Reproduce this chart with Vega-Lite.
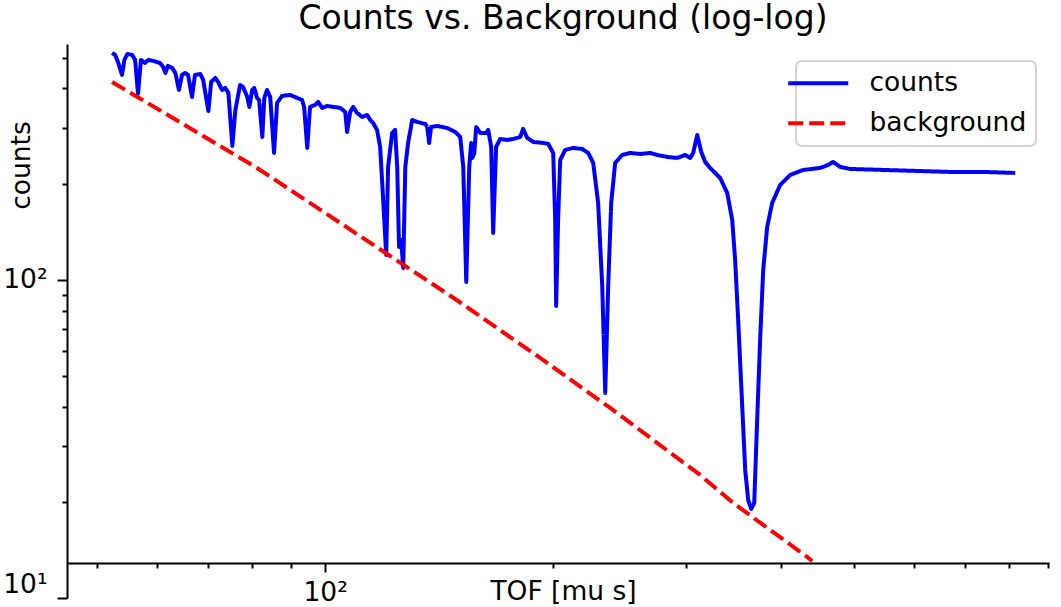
{
  "$schema": "https://vega.github.io/schema/vega-lite/v6.json",
  "width": 982,
  "height": 554,
  "autosize": {"type": "none"},
  "padding": {"left": 67, "top": 44, "right": 12, "bottom": 9},
  "background": "white",
  "title": {
    "text": "Counts vs. Background (log-log)",
    "font": "DejaVu Sans",
    "fontSize": 33,
    "fontWeight": "normal",
    "color": "black",
    "anchor": "middle",
    "baseline": "alphabetic",
    "offset": -18,
    "dx": 5
  },
  "layer": [
    {
      "data": {
        "values": [
          {"tof": 52.3, "value": 517.5, "series": "counts"},
          {"tof": 52.8, "value": 510.0, "series": "counts"},
          {"tof": 53.3, "value": 481.3, "series": "counts"},
          {"tof": 53.9, "value": 441.2, "series": "counts"},
          {"tof": 54.3, "value": 491.9, "series": "counts"},
          {"tof": 54.8, "value": 513.7, "series": "counts"},
          {"tof": 55.6, "value": 510.0, "series": "counts"},
          {"tof": 56.1, "value": 491.9, "series": "counts"},
          {"tof": 56.6, "value": 384.5, "series": "counts"},
          {"tof": 57.1, "value": 491.9, "series": "counts"},
          {"tof": 57.8, "value": 481.3, "series": "counts"},
          {"tof": 58.4, "value": 491.9, "series": "counts"},
          {"tof": 59.3, "value": 488.3, "series": "counts"},
          {"tof": 60.5, "value": 481.3, "series": "counts"},
          {"tof": 61.1, "value": 467.5, "series": "counts"},
          {"tof": 61.5, "value": 447.7, "series": "counts"},
          {"tof": 62.0, "value": 471.0, "series": "counts"},
          {"tof": 62.8, "value": 464.2, "series": "counts"},
          {"tof": 63.4, "value": 447.7, "series": "counts"},
          {"tof": 64.1, "value": 395.8, "series": "counts"},
          {"tof": 64.7, "value": 441.2, "series": "counts"},
          {"tof": 65.3, "value": 447.7, "series": "counts"},
          {"tof": 65.9, "value": 441.2, "series": "counts"},
          {"tof": 66.7, "value": 376.3, "series": "counts"},
          {"tof": 67.3, "value": 441.2, "series": "counts"},
          {"tof": 68.4, "value": 444.4, "series": "counts"},
          {"tof": 69.0, "value": 425.5, "series": "counts"},
          {"tof": 70.1, "value": 340.0, "series": "counts"},
          {"tof": 70.7, "value": 419.4, "series": "counts"},
          {"tof": 71.6, "value": 431.8, "series": "counts"},
          {"tof": 72.2, "value": 419.4, "series": "counts"},
          {"tof": 73.1, "value": 395.8, "series": "counts"},
          {"tof": 73.8, "value": 401.6, "series": "counts"},
          {"tof": 74.5, "value": 387.3, "series": "counts"},
          {"tof": 75.4, "value": 263.9, "series": "counts"},
          {"tof": 76.1, "value": 342.5, "series": "counts"},
          {"tof": 77.2, "value": 410.4, "series": "counts"},
          {"tof": 77.9, "value": 404.5, "series": "counts"},
          {"tof": 78.9, "value": 376.3, "series": "counts"},
          {"tof": 79.4, "value": 350.0, "series": "counts"},
          {"tof": 80.1, "value": 395.8, "series": "counts"},
          {"tof": 80.6, "value": 401.6, "series": "counts"},
          {"tof": 81.3, "value": 373.6, "series": "counts"},
          {"tof": 81.8, "value": 368.2, "series": "counts"},
          {"tof": 82.6, "value": 281.6, "series": "counts"},
          {"tof": 83.1, "value": 373.6, "series": "counts"},
          {"tof": 83.8, "value": 395.8, "series": "counts"},
          {"tof": 84.6, "value": 376.3, "series": "counts"},
          {"tof": 85.6, "value": 250.8, "series": "counts"},
          {"tof": 86.4, "value": 360.3, "series": "counts"},
          {"tof": 87.7, "value": 379.0, "series": "counts"},
          {"tof": 89.9, "value": 381.8, "series": "counts"},
          {"tof": 91.8, "value": 373.6, "series": "counts"},
          {"tof": 93.2, "value": 368.2, "series": "counts"},
          {"tof": 93.8, "value": 350.0, "series": "counts"},
          {"tof": 94.7, "value": 260.1, "series": "counts"},
          {"tof": 95.5, "value": 350.0, "series": "counts"},
          {"tof": 97.0, "value": 355.1, "series": "counts"},
          {"tof": 97.9, "value": 362.9, "series": "counts"},
          {"tof": 99.1, "value": 347.5, "series": "counts"},
          {"tof": 100.6, "value": 352.5, "series": "counts"},
          {"tof": 102.5, "value": 350.0, "series": "counts"},
          {"tof": 104.7, "value": 347.5, "series": "counts"},
          {"tof": 106.3, "value": 337.5, "series": "counts"},
          {"tof": 106.9, "value": 292.0, "series": "counts"},
          {"tof": 107.9, "value": 337.5, "series": "counts"},
          {"tof": 108.9, "value": 350.0, "series": "counts"},
          {"tof": 110.2, "value": 335.1, "series": "counts"},
          {"tof": 111.9, "value": 325.5, "series": "counts"},
          {"tof": 113.6, "value": 330.3, "series": "counts"},
          {"tof": 114.7, "value": 318.5, "series": "counts"},
          {"tof": 115.7, "value": 311.7, "series": "counts"},
          {"tof": 117.1, "value": 296.3, "series": "counts"},
          {"tof": 118.2, "value": 262.0, "series": "counts"},
          {"tof": 119.3, "value": 178.5, "series": "counts"},
          {"tof": 120.4, "value": 119.9, "series": "counts"},
          {"tof": 121.1, "value": 226.7, "series": "counts"},
          {"tof": 122.6, "value": 289.9, "series": "counts"},
          {"tof": 123.7, "value": 296.3, "series": "counts"},
          {"tof": 124.5, "value": 226.7, "series": "counts"},
          {"tof": 125.2, "value": 127.0, "series": "counts"},
          {"tof": 126.0, "value": 133.6, "series": "counts"},
          {"tof": 126.8, "value": 109.1, "series": "counts"},
          {"tof": 127.6, "value": 226.7, "series": "counts"},
          {"tof": 128.7, "value": 269.7, "series": "counts"},
          {"tof": 130.3, "value": 318.5, "series": "counts"},
          {"tof": 132.3, "value": 314.0, "series": "counts"},
          {"tof": 135.6, "value": 309.4, "series": "counts"},
          {"tof": 136.4, "value": 302.8, "series": "counts"},
          {"tof": 137.2, "value": 269.7, "series": "counts"},
          {"tof": 138.0, "value": 302.8, "series": "counts"},
          {"tof": 140.6, "value": 305.0, "series": "counts"},
          {"tof": 144.9, "value": 300.6, "series": "counts"},
          {"tof": 148.5, "value": 292.0, "series": "counts"},
          {"tof": 150.8, "value": 281.6, "series": "counts"},
          {"tof": 152.2, "value": 226.7, "series": "counts"},
          {"tof": 153.6, "value": 98.6, "series": "counts"},
          {"tof": 155.0, "value": 226.7, "series": "counts"},
          {"tof": 155.9, "value": 269.7, "series": "counts"},
          {"tof": 156.4, "value": 241.9, "series": "counts"},
          {"tof": 157.4, "value": 250.8, "series": "counts"},
          {"tof": 158.3, "value": 302.8, "series": "counts"},
          {"tof": 160.3, "value": 289.9, "series": "counts"},
          {"tof": 163.2, "value": 289.9, "series": "counts"},
          {"tof": 164.2, "value": 296.3, "series": "counts"},
          {"tof": 165.7, "value": 262.0, "series": "counts"},
          {"tof": 166.7, "value": 140.5, "series": "counts"},
          {"tof": 168.2, "value": 262.0, "series": "counts"},
          {"tof": 170.3, "value": 277.6, "series": "counts"},
          {"tof": 174.0, "value": 275.6, "series": "counts"},
          {"tof": 177.2, "value": 277.6, "series": "counts"},
          {"tof": 181.0, "value": 281.6, "series": "counts"},
          {"tof": 182.6, "value": 298.5, "series": "counts"},
          {"tof": 184.9, "value": 279.6, "series": "counts"},
          {"tof": 188.3, "value": 271.6, "series": "counts"},
          {"tof": 194.1, "value": 269.7, "series": "counts"},
          {"tof": 197.1, "value": 267.7, "series": "counts"},
          {"tof": 200.1, "value": 250.8, "series": "counts"},
          {"tof": 201.3, "value": 154.4, "series": "counts"},
          {"tof": 201.9, "value": 82.8, "series": "counts"},
          {"tof": 203.1, "value": 154.4, "series": "counts"},
          {"tof": 204.4, "value": 238.4, "series": "counts"},
          {"tof": 207.5, "value": 256.3, "series": "counts"},
          {"tof": 212.6, "value": 260.1, "series": "counts"},
          {"tof": 218.5, "value": 258.2, "series": "counts"},
          {"tof": 222.6, "value": 250.8, "series": "counts"},
          {"tof": 226.0, "value": 233.3, "series": "counts"},
          {"tof": 229.4, "value": 174.7, "series": "counts"},
          {"tof": 232.3, "value": 95.1, "series": "counts"},
          {"tof": 234.4, "value": 44.1, "series": "counts"},
          {"tof": 236.5, "value": 95.1, "series": "counts"},
          {"tof": 238.7, "value": 174.7, "series": "counts"},
          {"tof": 241.6, "value": 233.3, "series": "counts"},
          {"tof": 246.8, "value": 247.2, "series": "counts"},
          {"tof": 252.9, "value": 250.8, "series": "counts"},
          {"tof": 260.7, "value": 249.0, "series": "counts"},
          {"tof": 268.7, "value": 250.8, "series": "counts"},
          {"tof": 274.5, "value": 247.2, "series": "counts"},
          {"tof": 283.0, "value": 243.7, "series": "counts"},
          {"tof": 291.8, "value": 241.9, "series": "counts"},
          {"tof": 299.0, "value": 247.2, "series": "counts"},
          {"tof": 303.5, "value": 241.9, "series": "counts"},
          {"tof": 306.3, "value": 250.8, "series": "counts"},
          {"tof": 310.1, "value": 285.8, "series": "counts"},
          {"tof": 313.9, "value": 252.7, "series": "counts"},
          {"tof": 317.7, "value": 235.0, "series": "counts"},
          {"tof": 322.5, "value": 225.0, "series": "counts"},
          {"tof": 332.5, "value": 209.3, "series": "counts"},
          {"tof": 339.7, "value": 187.8, "series": "counts"},
          {"tof": 344.9, "value": 154.4, "series": "counts"},
          {"tof": 348.0, "value": 115.6, "series": "counts"},
          {"tof": 351.2, "value": 74.9, "series": "counts"},
          {"tof": 355.5, "value": 40.45, "series": "counts"},
          {"tof": 358.8, "value": 25.27, "series": "counts"},
          {"tof": 362.1, "value": 20.33, "series": "counts"},
          {"tof": 365.4, "value": 19.05, "series": "counts"},
          {"tof": 368.8, "value": 19.9, "series": "counts"},
          {"tof": 372.1, "value": 36.29, "series": "counts"},
          {"tof": 375.6, "value": 66.2, "series": "counts"},
          {"tof": 379.0, "value": 107.5, "series": "counts"},
          {"tof": 383.6, "value": 146.8, "series": "counts"},
          {"tof": 389.5, "value": 174.7, "series": "counts"},
          {"tof": 399.1, "value": 199.0, "series": "counts"},
          {"tof": 411.4, "value": 213.9, "series": "counts"},
          {"tof": 428.0, "value": 221.8, "series": "counts"},
          {"tof": 450.7, "value": 225.0, "series": "counts"},
          {"tof": 461.8, "value": 230.0, "series": "counts"},
          {"tof": 468.9, "value": 235.0, "series": "counts"},
          {"tof": 479.0, "value": 226.7, "series": "counts"},
          {"tof": 493.8, "value": 223.4, "series": "counts"},
          {"tof": 545.9, "value": 221.8, "series": "counts"},
          {"tof": 605.4, "value": 220.2, "series": "counts"},
          {"tof": 669.4, "value": 218.6, "series": "counts"},
          {"tof": 740.0, "value": 218.6, "series": "counts"},
          {"tof": 815.7, "value": 217.0, "series": "counts"},
          {"tof": 52.3, "value": 419.4, "series": "background"},
          {"tof": 81.3, "value": 225.0, "series": "background"},
          {"tof": 104.7, "value": 151.1, "series": "background"},
          {"tof": 148.5, "value": 87.1, "series": "background"},
          {"tof": 192.3, "value": 56.9, "series": "background"},
          {"tof": 238.0, "value": 39.58, "series": "background"},
          {"tof": 312.9, "value": 24.37, "series": "background"},
          {"tof": 345.9, "value": 19.9, "series": "background"},
          {"tof": 433.3, "value": 13.46, "series": "background"},
          {"tof": 439.9, "value": 13.07, "series": "background"}
        ]
      },
      "mark": {"type": "line", "strokeWidth": 4, "strokeJoin": "round"},
      "encoding": {
        "x": {
          "field": "tof",
          "type": "quantitative",
          "scale": {"type": "log", "domain": [45.6, 904], "nice": false},
          "axis": {
            "title": "TOF [mu s]",
            "values": [50, 60, 70, 80, 90, 100, 200, 300, 400, 500, 600, 700, 800, 900],
            "labelExpr": "datum.value == 100 ? '10²' : ''",
            "tickSize": {"condition": {"test": "datum.value == 100", "value": 9}, "value": 5},
            "tickWidth": 2,
            "tickColor": "black",
            "domainColor": "black",
            "domainWidth": 2,
            "offset": -35,
            "grid": false,
            "labelFont": "DejaVu Sans",
            "labelFontSize": 26.5,
            "labelColor": "black",
            "labelPadding": 7,
            "labelFlush": false,
            "labelOverlap": false,
            "titleFont": "DejaVu Sans",
            "titleFontSize": 26.5,
            "titleFontWeight": "normal",
            "titleColor": "black",
            "titleX": 496,
            "titleY": 36,
            "titleBaseline": "alphabetic",
            "titleAlign": "center"
          }
        },
        "y": {
          "field": "value",
          "type": "quantitative",
          "scale": {"type": "log", "domain": [10, 552], "nice": false},
          "axis": {
            "title": "counts",
            "values": [10, 20, 30, 40, 50, 60, 70, 80, 90, 100, 200, 300, 400, 500],
            "labelExpr": "datum.value == 100 ? '10²' : datum.value == 10 ? '10¹' : ''",
            "tickSize": {"condition": {"test": "datum.value == 100 || datum.value == 10", "value": 10}, "value": 5},
            "tickWidth": 2,
            "tickColor": "black",
            "domainColor": "black",
            "domainWidth": 2,
            "grid": false,
            "labelFont": "DejaVu Sans",
            "labelFontSize": 26.5,
            "labelColor": "black",
            "labelPadding": 10,
            "labelFlush": true,
            "labelOverlap": false,
            "titleFont": "DejaVu Sans",
            "titleFontSize": 26.5,
            "titleFontWeight": "normal",
            "titleColor": "black",
            "titleAngle": 270,
            "titleX": -38,
            "titleY": 121,
            "titleBaseline": "alphabetic",
            "titleAlign": "center"
          }
        },
        "color": {
          "field": "series",
          "type": "nominal",
          "scale": {"domain": ["counts", "background"], "range": ["#0000ff", "#ff0000"]},
          "legend": {
            "title": null,
            "orient": "none",
            "legendX": 729,
            "legendY": 17,
            "symbolType": "M-3,0H3",
            "symbolSize": 400,
            "symbolStrokeWidth": 4,
            "symbolFillColor": "transparent",
            "labelFont": "DejaVu Sans",
            "labelFontSize": 26.5,
            "labelColor": "black",
            "labelOffset": 38,
            "rowPadding": 13,
            "padding": 9,
            "strokeColor": "#d4d4d4",
            "cornerRadius": 6,
            "fillColor": "rgba(255,255,255,0.8)",
            "encode": {"legend": {"update": {"strokeWidth": {"value": 2}}}}
          }
        },
        "strokeDash": {
          "field": "series",
          "type": "nominal",
          "scale": {"domain": ["counts", "background"], "range": [[1, 0], [15, 6]]},
          "legend": {
            "title": null,
            "orient": "none",
            "legendX": 729,
            "legendY": 17,
            "symbolType": "M-3,0H3",
            "symbolSize": 400,
            "symbolStrokeWidth": 4,
            "symbolFillColor": "transparent",
            "labelFont": "DejaVu Sans",
            "labelFontSize": 26.5,
            "labelColor": "black",
            "labelOffset": 38,
            "rowPadding": 13,
            "padding": 9,
            "strokeColor": "#d4d4d4",
            "cornerRadius": 6,
            "fillColor": "rgba(255,255,255,0.8)",
            "encode": {"legend": {"update": {"strokeWidth": {"value": 2}}}}
          }
        }
      }
    },
    {
      "mark": {"type": "rule", "color": "black", "strokeWidth": 2},
      "encoding": {
        "x": {"datum": 45.6},
        "x2": {"datum": 904},
        "y": {"datum": 552}
      }
    },
    {
      "mark": {"type": "rule", "color": "black", "strokeWidth": 2},
      "encoding": {
        "x": {"datum": 904},
        "y": {"datum": 12.9},
        "y2": {"datum": 552}
      }
    }
  ],
  "config": {
    "font": "DejaVu Sans",
    "view": {"stroke": null}
  }
}
